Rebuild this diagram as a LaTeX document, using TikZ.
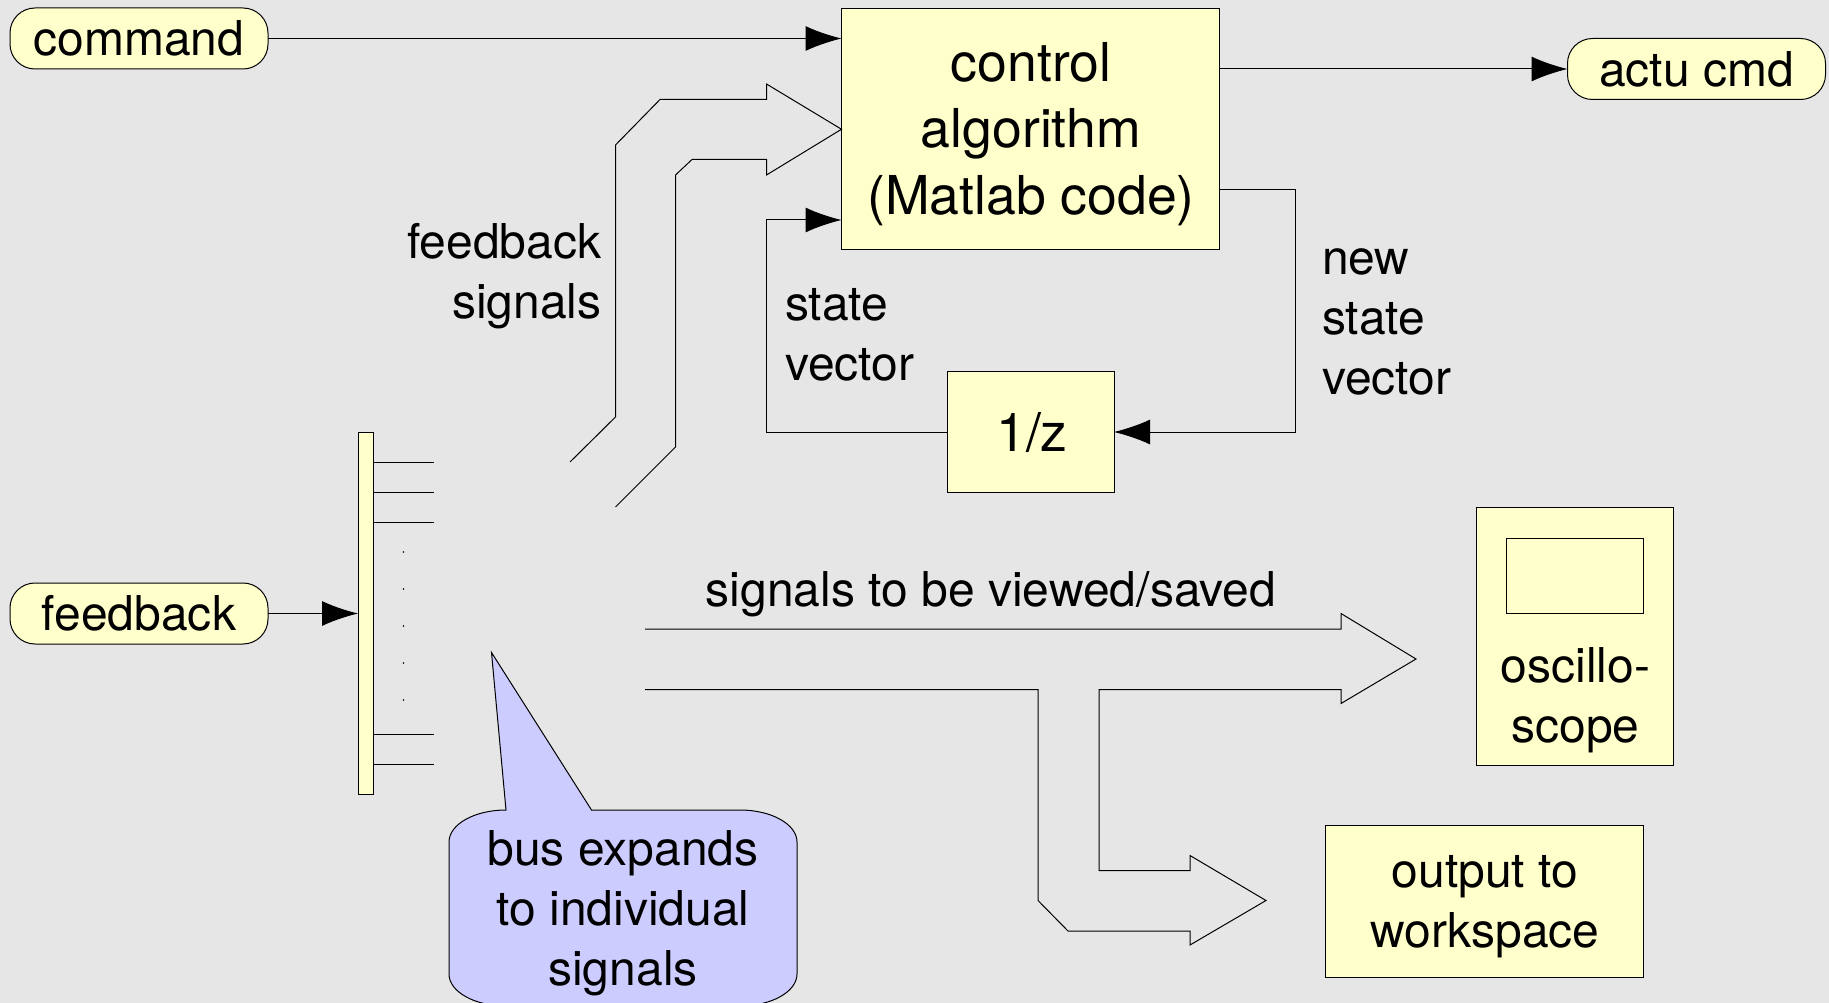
\documentclass[tikz,border=0pt]{standalone}
\usepackage{fontspec}
\setmainfont{TeX Gyre Heros}
\usetikzlibrary{arrows.meta,calc}
\definecolor{bgcol}{HTML}{E6E6E6}
\definecolor{boxyellow}{HTML}{FFFFCC}
\definecolor{calloutblue}{HTML}{CCCCFF}
\tikzset{
  x=1pt,y=-1pt,
  every path/.style={line width=1pt,line join=miter},
  sized/.style n args={2}{minimum width=#1pt,minimum height=#2pt,inner sep=0pt,outer sep=0pt},
  box/.style={draw=black,fill=boxyellow},
  pill/.style={box,rounded corners=25pt,font=\fontsize{48}{60}\selectfont},
  lbl/.style={inner sep=0pt,outer sep=0pt,font=\fontsize{48}{60}\selectfont},
  biglbl/.style={inner sep=0pt,outer sep=0pt,font=\fontsize{53.6}{66.5}\selectfont},
  conn/.style={draw=black,-{Latex[length=36pt,width=25pt]}},
  thin line/.style={draw=black},
  hollow/.style={draw=black,line join=miter}
}
\begin{document}
\begin{tikzpicture}
\fill[bgcol,use as bounding box] (0,0) rectangle (1829,1003);
% boxes
\node[box,sized={378}{241.5}] (control) at (1030.5,129.25) {};
\node[biglbl,align=center] (controltext) at (1031,134) {control\\algorithm\\(Matlab code)};
\node[box,sized={167}{121}] (delay) at (1030.5,432) {};
\node[biglbl] (delaytext) at (1032,432) {1/z};
\node[pill,sized={258}{61}] (command) at (139,38.5) {command};
\node[pill,sized={258}{61}] (actu) at (1696.5,69) {actu cmd};
\node[pill,sized={258}{61}] (feedback) at (139,613.5) {feedback};
\node[box,sized={15}{362.5}] (bus) at (365.5,613.5) {};
\node[box,sized={197}{258}] (scope) at (1575,636) {};
\node[box,sized={137}{75}] (screen) at (1575,575.5) {};
\node[lbl,align=center] (scopetext) at (1575.5,700) {oscillo-\\scope};
\node[box,sized={318}{152}] (workspace) at (1484.5,901) {};
\node[lbl,align=center] (worktext) at (1485,907) {output to\\workspace};
% bus stubs
\coordinate (s1) at (434,462);
\coordinate (s2) at (434,492.5);
\coordinate (s3) at (434,522.5);
\coordinate (s4) at (434,734.5);
\coordinate (s5) at (434,764.5);
\foreach \s in {s1,s2,s3,s4,s5}{\draw[thin line] (\s) -- (\s -| bus.east);}
\foreach \y in {552,589,626,663,700}{\fill[black] (403.5,\y) circle (0.9pt);}
% connectors
\draw[conn] (command.east) -- (command.east -| control.west);
\draw[conn] (control.east |- actu.west) -- (actu.west);
\draw[conn] (feedback.east) -- (bus.west |- feedback.east);
\coordinate (sv) at (766.5,220);
\draw[conn] (delay.west) -| (sv) -- (sv -| control.west);
\coordinate (ns) at (1295.5,190);
\draw[conn] (ns -| control.east) -- (ns) |- (delay.east);
% fat arrows
\draw[hollow] (570,462) -- (615.5,417) -- (615.5,145) -- (660,99.5) -- (766.5,99.5) -- (766.5,84) -- (control.west) -- (766.5,175) -- (766.5,159.5) -- (692,159.5) -- (675.5,175) -- (675.5,447) -- (615.5,507);
\draw[hollow] (645,629) -- (1341,629) -- (1341,613.5) -- (1416,659) -- (1341,703.5) -- (1341,689.5) -- (1099,689.5) -- (1099,870.5) -- (1190,870.5) -- (1190,855.5) -- (1266,900.5) -- (1190,945) -- (1190,931) -- (1068,931) -- (1038,900.5) -- (1038,689.5) -- (645,689.5);
% callout
\draw[black,fill=calloutblue] (491.5,652.5) -- (591.5,810) -- (740,810)
  arc[start angle=-90,end angle=0,x radius=57,y radius=32] -- (797,974)
  arc[start angle=0,end angle=90,x radius=57,y radius=32] -- (506,1006)
  arc[start angle=90,end angle=180,x radius=57,y radius=32] -- (449,842)
  arc[start angle=180,end angle=270,x radius=57,y radius=32] -- cycle;
\node[lbl,align=center] (calloutext) at (623,913.5) {bus expands\\to individual\\signals};
% labels
\node[lbl,align=right,anchor=east] (fbl) at (601.5,276.5) {feedback\\signals};
\node[lbl,align=left,anchor=west] (svl) at (785,334.5) {state\\vector};
\node[lbl,align=left,anchor=west] (nsl) at (1322,322) {new\\state\\vector};
\node[lbl] (view) at (991,594) {signals to be viewed/saved};
\end{tikzpicture}
\end{document}
